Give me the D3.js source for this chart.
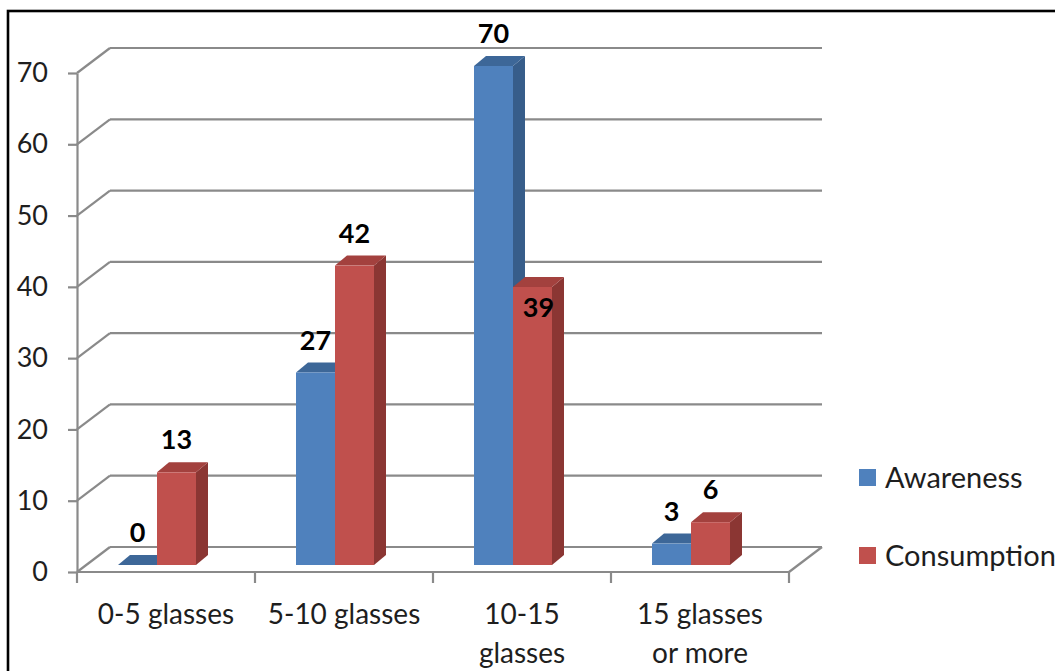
<!DOCTYPE html>
<html>
<head>
<meta charset="utf-8">
<script src="https://cdn.jsdelivr.net/npm/d3@7"></script>
<style>
  html, body { margin: 0; padding: 0; background: #fff; }
  svg { display: block; font-family: Lato, "Open Sans", sans-serif; }
</style>
</head>
<body>
<svg id="chart" width="1055" height="671"></svg>
<script>
// Glasses of water per day: awareness vs. actual consumption (%)
const categories = ["0-5 glasses", "5-10 glasses", "10-15 glasses", "15 glasses or more"];
const categoryLines = [["0-5 glasses"], ["5-10 glasses"], ["10-15", "glasses"], ["15 glasses", "or more"]];
const seriesNames = ["Awareness", "Consumption"];
const awareness = [0, 27, 70, 3];
const consumption = [13, 42, 39, 6];
const yTicks = [0, 10, 20, 30, 40, 50, 60, 70];

const colors = {
  Awareness:   { front: "#4F81BD", top: "#3D6798", side: "#375D8A" },
  Consumption: { front: "#C0504D", top: "#A3413E", side: "#8B3633" }
};

const svg = d3.select("#chart");
const grid = "#8a8a8a";

// oblique 3D frame: front plane plus a depth offset to the back wall
const depth = { dx: 33, dy: -25 };
const xCat = d3.scaleBand().domain(categories).range([77, 789]).padding(0);
const yFront = d3.scaleLinear().domain([0, 70]).range([572, 73]);

// bars sit a little way into the floor
const barZ = 0.28;
const yBar = v => yFront(v) + barZ * depth.dy;
const barW = 39;
const barDepth = { dx: 12, dy: -10 };

// outer frame
svg.append("rect")
  .attr("x", 8).attr("y", 11).attr("width", 1200).attr("height", 800)
  .attr("fill", "none").attr("stroke", "#000").attr("stroke-width", 2.6);

// back wall gridlines and left side wall diagonals
const gWall = svg.append("g").attr("stroke", grid).attr("stroke-width", 2.2).attr("fill", "none");
gWall.selectAll("line.back").data(yTicks).join("line")
  .attr("class", "back")
  .attr("x1", 77 + depth.dx).attr("x2", 789 + depth.dx)
  .attr("y1", d => yFront(d) + depth.dy).attr("y2", d => yFront(d) + depth.dy);
gWall.selectAll("line.side").data(yTicks).join("line")
  .attr("class", "side")
  .attr("x1", 77).attr("x2", 77 + depth.dx)
  .attr("y1", d => yFront(d)).attr("y2", d => yFront(d) + depth.dy);
// right edge of the floor
gWall.append("line")
  .attr("x1", 789).attr("y1", yFront(0))
  .attr("x2", 789 + depth.dx).attr("y2", yFront(0) + depth.dy);

// y axis on the front-left edge
const yAxis = svg.append("g")
  .attr("transform", "translate(77,0)")
  .call(d3.axisLeft(yFront).tickValues(yTicks).tickSize(9).tickSizeOuter(0).tickPadding(20));
yAxis.select(".domain").attr("stroke", grid).attr("stroke-width", 2.2);
yAxis.selectAll(".tick line").attr("stroke", grid).attr("stroke-width", 2.2);
yAxis.selectAll(".tick text")
  .attr("font-size", 27).attr("fill", "#1e1e1e").attr("font-family", "Lato, sans-serif");

// x axis along the front floor edge
const gx = svg.append("g");
gx.append("line")
  .attr("x1", 77).attr("x2", 789).attr("y1", yFront(0)).attr("y2", yFront(0))
  .attr("stroke", grid).attr("stroke-width", 2.2);
const bounds = categories.map(c => xCat(c)).concat([xCat.range()[1]]);
gx.selectAll("line.tick").data(bounds).join("line")
  .attr("class", "tick")
  .attr("x1", d => d).attr("x2", d => d)
  .attr("y1", yFront(0)).attr("y2", yFront(0) + 11)
  .attr("stroke", grid).attr("stroke-width", 2.2);
const xl = gx.selectAll("text.cat").data(categories).join("text")
  .attr("class", "cat")
  .attr("x", d => xCat(d) + xCat.bandwidth() / 2)
  .attr("y", 624)
  .attr("text-anchor", "middle")
  .attr("font-size", 28).attr("fill", "#1e1e1e");
xl.each(function (d, i) {
  d3.select(this).selectAll("tspan").data(categoryLines[i]).join("tspan")
    .attr("x", xCat(d) + xCat.bandwidth() / 2)
    .attr("dy", (t, j) => j === 0 ? 0 : 39)
    .text(t => t);
});

// 3D columns
const rows = categories.map((c, i) => ({ c, vals: [awareness[i], consumption[i]] }));
const gBars = svg.append("g");
const labels = [];
rows.forEach(row => {
  const center = xCat(row.c) + xCat.bandwidth() / 2 - 9;
  row.vals.forEach((v, k) => {
    const name = seriesNames[k];
    const col = colors[name];
    const x = center - barW + k * barW;
    const yt = yBar(v), yb = yBar(0);
    const g = gBars.append("g");
    // right side face
    g.append("path")
      .attr("d", `M${x + barW},${yt} L${x + barW + barDepth.dx},${yt + barDepth.dy} L${x + barW + barDepth.dx},${yb + barDepth.dy} L${x + barW},${yb} Z`)
      .attr("fill", col.side);
    // top face
    g.append("path")
      .attr("d", `M${x},${yt} L${x + barDepth.dx},${yt + barDepth.dy} L${x + barW + barDepth.dx},${yt + barDepth.dy} L${x + barW},${yt} Z`)
      .attr("fill", col.top);
    // front face
    g.append("rect")
      .attr("x", x).attr("y", yt).attr("width", barW).attr("height", yb - yt)
      .attr("fill", col.front);
    // the value label drops inside when the bar to its left stands taller
    const inside = k > 0 && row.vals[k - 1] > v;
    labels.push({
      v,
      x: inside ? x + (barW + barDepth.dx) / 2 : x + barW / 2,
      y: inside ? yt + 30 : yt - 23
    });
  });
});

svg.append("g").selectAll("text").data(labels).join("text")
  .attr("x", d => d.x).attr("y", d => d.y)
  .attr("text-anchor", "middle")
  .attr("font-size", 27).attr("font-weight", "bold").attr("fill", "#000")
  .text(d => d.v);

// legend
const lg = svg.append("g").selectAll("g").data(seriesNames).join("g")
  .attr("transform", (d, i) => `translate(859,${469 + i * 78})`);
lg.append("rect").attr("width", 17).attr("height", 17)
  .attr("fill", d => colors[d].front);
lg.append("text").attr("x", 26).attr("y", 9).attr("dy", "0.35em")
  .attr("font-size", 29).attr("fill", "#1e1e1e")
  .text(d => d);
</script>
</body>
</html>
